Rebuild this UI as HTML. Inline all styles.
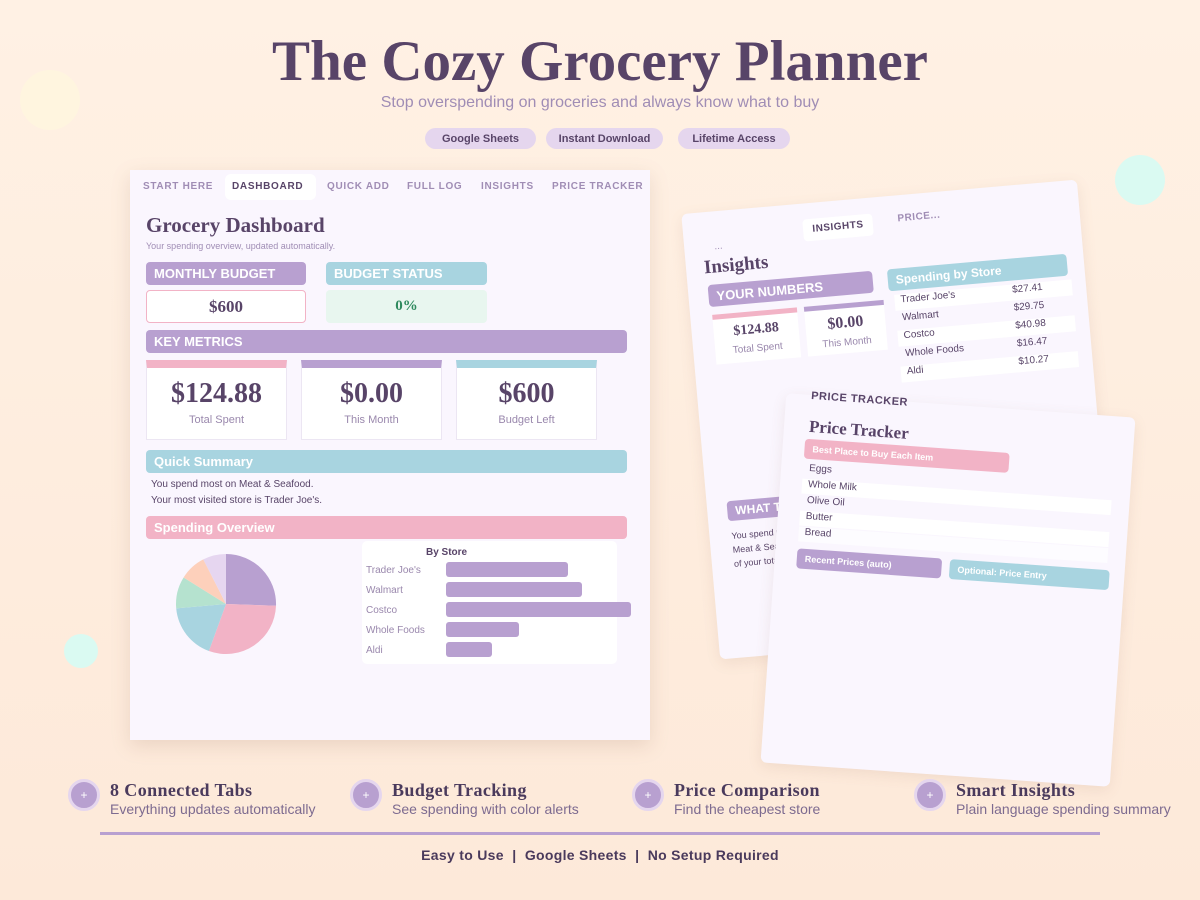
<!DOCTYPE html>
<html><head><meta charset="utf-8"><style>
*{margin:0;padding:0;box-sizing:border-box}
body{width:1200px;height:900px;overflow:hidden;background:linear-gradient(#fff1e4,#fde9d9);font-family:"Liberation Sans",sans-serif;position:relative;color:#584468}
.a{position:absolute}
.serif{font-family:"Liberation Serif",serif;font-weight:bold}
.hdr{position:absolute;color:#fff;font-weight:bold;border-radius:4px;padding-left:8px;display:flex;align-items:center}
.pill{position:absolute;top:128px;height:21px;border-radius:11px;background:#e5d6ee;font-size:11px;font-weight:bold;color:#584468;display:flex;align-items:center;justify-content:center}
.tab{position:absolute;top:181px;font-size:10px;font-weight:bold;color:#a08db5;letter-spacing:.7px}
.mc{position:absolute;top:360px;width:141px;height:80px;background:#fff;border:1px solid #ece6f3;border-top:8px solid;text-align:center}
.mc b{display:block;font-family:"Liberation Serif",serif;font-size:28px;color:#584468;margin-top:10px}
.mc span{font-size:11px;color:#9a88ad}
.bl{position:absolute;left:366px;font-size:10px;color:#9a88ad}
.bar{position:absolute;left:446px;height:15px;background:#b8a0d0;border-radius:3px}
.fc{position:absolute;top:779px;width:32px;height:32px;border-radius:50%;background:#b8a0d0;border:3px solid #e5d6ee;color:#fff;font-size:12px;text-align:center;line-height:26px}
.ft{position:absolute;top:780px;font-family:"Liberation Serif",serif;font-weight:bold;font-size:18px;color:#4a3a5c;letter-spacing:.4px}
.fs{position:absolute;top:801px;font-size:14px;color:#7d6b90}
.row{position:absolute;background:#fff;font-size:10px;color:#584468;padding-left:6px}
</style></head><body>
<div class="a" style="left:20px;top:70px;width:60px;height:60px;border-radius:50%;background:#fff5df"></div>
<div class="a" style="left:1115px;top:155px;width:50px;height:50px;border-radius:50%;background:#dafaf2"></div>
<div class="a" style="left:64px;top:634px;width:34px;height:34px;border-radius:50%;background:#dafaf2"></div>

<div class="a serif" style="left:0;width:1200px;top:30px;text-align:center;font-size:57px;color:#584468;line-height:64px">The Cozy Grocery Planner</div>
<div class="a" style="left:0;width:1200px;top:94px;text-align:center;font-size:16px;color:#a08db5">Stop overspending on groceries and always know what to buy</div>
<div class="pill" style="left:425px;width:111px">Google Sheets</div>
<div class="pill" style="left:546px;width:117px">Instant Download</div>
<div class="pill" style="left:678px;width:112px">Lifetime Access</div>

<!-- insights card -->
<div class="a" style="left:700px;top:196px;width:397px;height:447px;background:#faf6fe;border-radius:6px;transform:rotate(-5deg);box-shadow:0 4px 14px rgba(150,110,90,.12);overflow:hidden">
 <div class="a" style="left:30px;top:30px;font-size:10px;color:#a08db5">...</div>
 <div class="a" style="left:120px;top:16px;width:70px;height:22px;background:#fff;border-radius:4px;font-size:10px;font-weight:bold;text-align:center;line-height:22px;letter-spacing:.5px">INSIGHTS</div>
 <div class="a" style="left:215px;top:18px;font-size:10px;font-weight:bold;color:#a08db5;letter-spacing:.5px">PRICE...</div>
 <div class="a serif" style="left:18px;top:45px;font-size:19px">Insights</div>
 <div class="hdr" style="left:20px;top:73px;width:165px;height:22px;background:#b8a0d0;font-size:13px">YOUR NUMBERS</div>
 <div class="a" style="left:22px;top:103px;width:85px;height:50px;background:#fff;border-top:5px solid #f2b3c6;text-align:center"><b class="serif" style="display:block;font-size:14px;margin-top:6px">$124.88</b><span style="font-size:10px;color:#9a88ad">Total Spent</span></div>
 <div class="a" style="left:114px;top:103px;width:80px;height:50px;background:#fff;border-top:5px solid #b8a0d0;text-align:center"><b class="serif" style="display:block;font-size:16px;margin-top:6px">$0.00</b><span style="font-size:10px;color:#9a88ad">This Month</span></div>
 <div class="hdr" style="left:200px;top:73px;width:180px;height:22px;background:#a8d4e0;font-size:12px">Spending by Store</div>
 <div class="row" style="left:205px;top:99px;width:178px;height:16px">Trader Joe's<span style="position:absolute;left:118px">$27.41</span></div>
 <div class="row" style="left:205px;top:117px;width:178px;height:16px;background:none">Walmart<span style="position:absolute;left:118px">$29.75</span></div>
 <div class="row" style="left:205px;top:135px;width:178px;height:16px">Costco<span style="position:absolute;left:118px">$40.98</span></div>
 <div class="row" style="left:205px;top:153px;width:178px;height:16px;background:none">Whole Foods<span style="position:absolute;left:118px">$16.47</span></div>
 <div class="row" style="left:205px;top:171px;width:178px;height:16px">Aldi<span style="position:absolute;left:118px">$10.27</span></div>
 <div class="hdr" style="left:20px;top:290px;width:100px;height:20px;background:#b8a0d0;font-size:12px">WHAT TO</div>
 <div class="a" style="left:22px;top:318px;font-size:9px;line-height:14px;color:#584468">You spend most on<br>Meat &amp; Seafood<br>of your total</div>
</div>

<!-- price tracker card -->
<div class="a" style="left:773px;top:405px;width:350px;height:370px;background:#faf6fe;border-radius:6px;transform:rotate(4deg);box-shadow:0 4px 14px rgba(150,110,90,.12)">
 <div class="a" style="left:25px;top:-5px;font-size:11px;font-weight:bold;letter-spacing:.5px">PRICE TRACKER</div>
 <div class="a serif" style="left:25px;top:22px;font-size:17px">Price Tracker</div>
 <div class="hdr" style="left:22px;top:44px;width:205px;height:20px;background:#f2b3c6;font-size:9px">Best Place to Buy Each Item</div>
 <div class="row" style="left:22px;top:68px;width:310px;height:15px;background:none">Eggs</div>
 <div class="row" style="left:22px;top:84px;width:310px;height:15px">Whole Milk</div>
 <div class="row" style="left:22px;top:100px;width:310px;height:15px;background:none">Olive Oil</div>
 <div class="row" style="left:22px;top:116px;width:310px;height:15px">Butter</div>
 <div class="row" style="left:22px;top:132px;width:310px;height:15px;background:#fdfcff">Bread</div>
 <div class="hdr" style="left:22px;top:154px;width:145px;height:20px;background:#b8a0d0;font-size:9px">Recent Prices (auto)</div>
 <div class="hdr" style="left:175px;top:154px;width:160px;height:20px;background:#a8d4e0;font-size:9px">Optional: Price Entry</div>
</div>

<!-- dashboard -->
<div class="a" style="left:130px;top:170px;width:520px;height:570px;background:#faf6fe;box-shadow:0 6px 18px rgba(150,110,90,.18)"></div>
<div class="a" style="left:225px;top:174px;width:91px;height:26px;background:#fff;border-radius:6px"></div>
<div class="tab" style="left:143px">START HERE</div>
<div class="tab" style="left:232px;color:#584468">DASHBOARD</div>
<div class="tab" style="left:327px">QUICK ADD</div>
<div class="tab" style="left:407px">FULL LOG</div>
<div class="tab" style="left:481px">INSIGHTS</div>
<div class="tab" style="left:552px">PRICE TRACKER</div>
<div class="a serif" style="left:146px;top:213px;font-size:21px">Grocery Dashboard</div>
<div class="a" style="left:146px;top:241px;font-size:9px;color:#a08db5">Your spending overview, updated automatically.</div>
<div class="hdr" style="left:146px;top:262px;width:160px;height:23px;background:#b8a0d0;font-size:13px">MONTHLY BUDGET</div>
<div class="hdr" style="left:326px;top:262px;width:161px;height:23px;background:#a8d4e0;font-size:13px">BUDGET STATUS</div>
<div class="a serif" style="left:146px;top:290px;width:160px;height:33px;background:#fff;border:1px solid #f2b3c6;border-radius:4px;text-align:center;line-height:31px;font-size:17px">$600</div>
<div class="a serif" style="left:326px;top:290px;width:161px;height:33px;background:#e8f6ef;border-radius:4px;text-align:center;line-height:33px;font-size:15px;color:#2e8a5e">0%</div>
<div class="hdr" style="left:146px;top:330px;width:481px;height:23px;background:#b8a0d0;font-size:13px">KEY METRICS</div>
<div class="mc" style="left:146px;border-top-color:#f2b3c6"><b>$124.88</b><span>Total Spent</span></div>
<div class="mc" style="left:301px;border-top-color:#b8a0d0"><b>$0.00</b><span>This Month</span></div>
<div class="mc" style="left:456px;border-top-color:#a8d4e0"><b>$600</b><span>Budget Left</span></div>
<div class="hdr" style="left:146px;top:450px;width:481px;height:23px;background:#a8d4e0;font-size:13px">Quick Summary</div>
<div class="a" style="left:151px;top:477px;font-size:10px;color:#584468;line-height:16px">You spend most on Meat &amp; Seafood.<br>Your most visited store is Trader Joe's.</div>
<div class="hdr" style="left:146px;top:516px;width:481px;height:23px;background:#f2b3c6;font-size:13px">Spending Overview</div>
<svg class="a" style="left:0;top:0" width="1200" height="900">
 <path d="M226,604 L226,554 A50,50 0 0 1 276,605.7 Z" fill="#b8a0d0"/>
 <path d="M226,604 L276,605.7 A50,50 0 0 1 208.9,651 Z" fill="#f2b3c6"/>
 <path d="M226,604 L208.9,651 A50,50 0 0 1 176.2,608.4 Z" fill="#a8d4e0"/>
 <path d="M226,604 L176.2,608.4 A50,50 0 0 1 183.6,577.5 Z" fill="#b5e2cf"/>
 <path d="M226,604 L183.6,577.5 A50,50 0 0 1 203.3,559.4 Z" fill="#fdd0bb"/>
 <path d="M226,604 L203.3,559.4 A50,50 0 0 1 226,554 Z" fill="#e6d6f0"/>
</svg>
<div class="a" style="left:362px;top:541px;width:255px;height:123px;background:#fff;border-radius:5px"></div>
<div class="a" style="left:426px;top:547px;font-size:10px;font-weight:bold">By Store</div>
<div class="bl" style="top:565px">Trader Joe's</div><div class="bar" style="top:562px;width:122px"></div>
<div class="bl" style="top:585px">Walmart</div><div class="bar" style="top:582px;width:136px"></div>
<div class="bl" style="top:605px">Costco</div><div class="bar" style="top:602px;width:185px"></div>
<div class="bl" style="top:625px">Whole Foods</div><div class="bar" style="top:622px;width:73px"></div>
<div class="bl" style="top:645px">Aldi</div><div class="bar" style="top:642px;width:46px"></div>

<!-- features -->
<div class="fc" style="left:68px">+</div><div class="ft" style="left:110px">8 Connected Tabs</div><div class="fs" style="left:110px">Everything updates automatically</div>
<div class="fc" style="left:350px">+</div><div class="ft" style="left:392px">Budget Tracking</div><div class="fs" style="left:392px">See spending with color alerts</div>
<div class="fc" style="left:632px">+</div><div class="ft" style="left:674px">Price Comparison</div><div class="fs" style="left:674px">Find the cheapest store</div>
<div class="fc" style="left:914px">+</div><div class="ft" style="left:956px">Smart Insights</div><div class="fs" style="left:956px">Plain language spending summary</div>
<div class="a" style="left:100px;top:832px;width:1000px;height:3px;background:#b8a0d0"></div>
<div class="a" style="left:0;width:1200px;top:847px;text-align:center;font-size:14px;font-weight:bold;color:#4a3a5c;letter-spacing:.3px">Easy to Use &nbsp;|&nbsp; Google Sheets &nbsp;|&nbsp; No Setup Required</div>
</body></html>
